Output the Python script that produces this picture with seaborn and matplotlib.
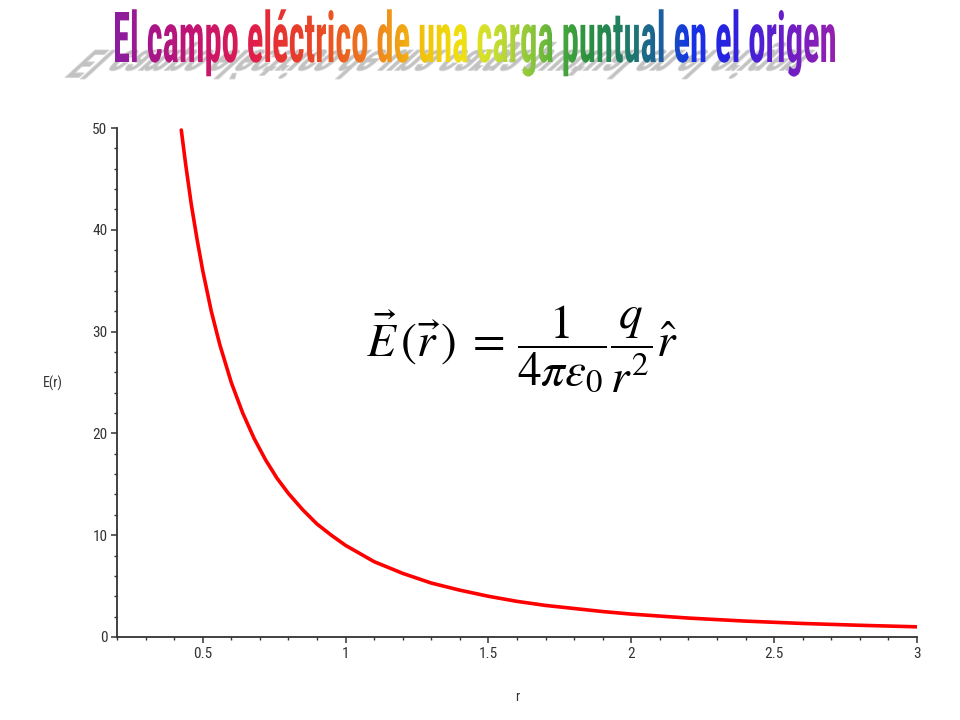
import numpy as np
import matplotlib
matplotlib.use("Agg")
import matplotlib.pyplot as plt
import seaborn as sns
from matplotlib.textpath import TextPath
from matplotlib.font_manager import FontProperties, findfont
from matplotlib.transforms import Affine2D
from matplotlib.patches import PathPatch
from matplotlib.colors import LinearSegmentedColormap
from matplotlib.ticker import MultipleLocator

# ---------------- data ----------------
r_vals = [0.425, 0.44, 0.46, 0.48, 0.50, 0.53, 0.56, 0.60, 0.64, 0.68, 0.72, 0.76,
          0.80, 0.85, 0.90, 0.95, 1.00, 1.10, 1.20, 1.30, 1.40, 1.50, 1.60, 1.70,
          1.80, 1.90, 2.00, 2.20, 2.40, 2.60, 2.80, 3.00]
E_vals = [49.8, 46.5, 42.5, 39.1, 36.0, 32.0, 28.7, 25.0, 22.0, 19.5, 17.4, 15.6,
          14.1, 12.5, 11.1, 10.0, 9.0, 7.4, 6.25, 5.3, 4.6, 4.0, 3.5, 3.1,
          2.8, 2.5, 2.25, 1.86, 1.56, 1.33, 1.15, 1.0]
x_ticks = [0.5, 1, 1.5, 2, 2.5, 3]
x_tick_labels = ["0.5", "1", "1.5", "2", "2.5", "3"]
y_ticks = [0, 10, 20, 30, 40, 50]
y_tick_labels = ["0", "10", "20", "30", "40", "50"]
title_text = "El campo eléctrico de una carga puntual en el origen"
equation = (r"$\vec{E}\,(\vec{r}\,)\;=\,\dfrac{1}{4\pi\varepsilon_0}"
            r"\dfrac{q}{r^2}\hat{r}$")


def pick(fams, **kw):
    for f in fams:
        try:
            findfont(FontProperties(family=f, **kw), fallback_to_default=False)
            return f
        except Exception:
            pass
    return "DejaVu Sans"


narrow = pick(["Liberation Sans Narrow", "Roboto Condensed", "Liberation Sans"])

sns.set_style("white")
plt.rcParams["font.family"] = [narrow, "DejaVu Sans"]
plt.rcParams["mathtext.fontset"] = "stix"

fig = plt.figure(figsize=(9.6, 7.2), dpi=100)
fig.patch.set_facecolor("white")

W, H = 960, 720
ax = fig.add_axes([117 / W, 1 - 637 / H, (917 - 117) / W, (637 - 128) / H])
sns.lineplot(x=r_vals, y=E_vals, ax=ax, color="#FF0000", linewidth=2.6, zorder=3)

ax.set_xlim(0.2, 3.0)
ax.set_ylim(0, 50)
ax.set_xticks(x_ticks)
ax.set_xticklabels(x_tick_labels)
ax.set_yticks(y_ticks)
ax.set_yticklabels(y_tick_labels)
ax.xaxis.set_minor_locator(MultipleLocator(0.1))
ax.yaxis.set_minor_locator(MultipleLocator(2))
for s in ["top", "right"]:
    ax.spines[s].set_visible(False)
for s in ["left", "bottom"]:
    ax.spines[s].set_color("#333333")
    ax.spines[s].set_linewidth(1.3)
ax.tick_params(which="major", direction="out", length=4, width=1.1, color="#333333",
               labelsize=11, labelcolor="#333333", pad=3, bottom=True, left=True)
ax.tick_params(which="minor", direction="out", length=2.5, width=1, color="#333333",
               bottom=True, left=True)
ax.set_facecolor("white")
ax.set_xlabel("r", fontsize=10, color="#333333")
ax.set_ylabel("E(r)", fontsize=10, color="#333333", rotation=0, va="center", ha="center")
ax.xaxis.set_label_coords(0.5, -(690 - 637) / (637 - 128))
ax.yaxis.set_label_coords((53 - 117) / 800, (637 - 383) / (637 - 128))

# equation
fig.text(366 / W, 1 - 357 / H, equation, fontsize=34, ha="left", va="baseline",
         color="black")

# ---------------- rainbow WordArt title ----------------
ax_t = fig.add_axes([0, 0, 1, 1], zorder=5)
ax_t.axis("off")

fp = FontProperties(family=narrow, weight="bold")
tp = TextPath((0, 0), title_text, size=1, prop=fp)
capE = TextPath((0, 0), "E", size=1, prop=fp).get_extents().height
ext = tp.get_extents()
x0, x1 = 115, 835
baseline = H - 62
sx = (x1 - x0) / ext.width
sy = 50 / capE

main_tr = Affine2D().translate(-ext.x0, 0).scale(sx, sy).translate(x0, baseline)
main_path = main_tr.transform_path(tp)

shadow_tr = (Affine2D().translate(-ext.x0, 0).scale(sx, sy)
             + Affine2D(np.array([[1.0, -0.6, 0.0], [0.0, -0.55, 0.0], [0.0, 0.0, 1.0]]))
             + Affine2D().translate(x0 - 20, baseline + 12))
shadow_path = shadow_tr.transform_path(tp)
ax_t.add_patch(PathPatch(shadow_path, facecolor="#C2C2C2", edgecolor="#D4D4D4",
                         linewidth=0.6, zorder=1))

stops = [(115, "#8A1E9E"), (150, "#A8168A"), (200, "#C8146E"), (253, "#E01E4A"),
         (270, "#E52E36"), (320, "#EA4A24"), (367, "#EE7A1C"), (390, "#F0961A"),
         (420, "#F2C00A"), (460, "#F0E010"), (490, "#D0E030"), (530, "#90C83A"),
         (562, "#48A83C"), (590, "#2A9040"), (630, "#1E7A6A"), (667, "#1A5AA8"),
         (690, "#1434E8"), (730, "#2A22E0"), (770, "#5A1ED0"), (835, "#9620B0")]
cmap = LinearSegmentedColormap.from_list(
    "wordart", [((p - x0) / (x1 - x0), c) for p, c in stops])
grad = np.linspace(0, 1, 512).reshape(1, -1)
clip = PathPatch(main_path, facecolor="none", edgecolor="none")
ax_t.add_patch(clip)
im = ax_t.imshow(grad, extent=[x0, x1, H - 95, H - 0], aspect="auto", cmap=cmap,
                 zorder=2, interpolation="bilinear")
im.set_clip_path(clip)
ax_t.set_xlim(0, W)
ax_t.set_ylim(0, H)

fig.savefig("out.png", dpi=100, facecolor="white")
